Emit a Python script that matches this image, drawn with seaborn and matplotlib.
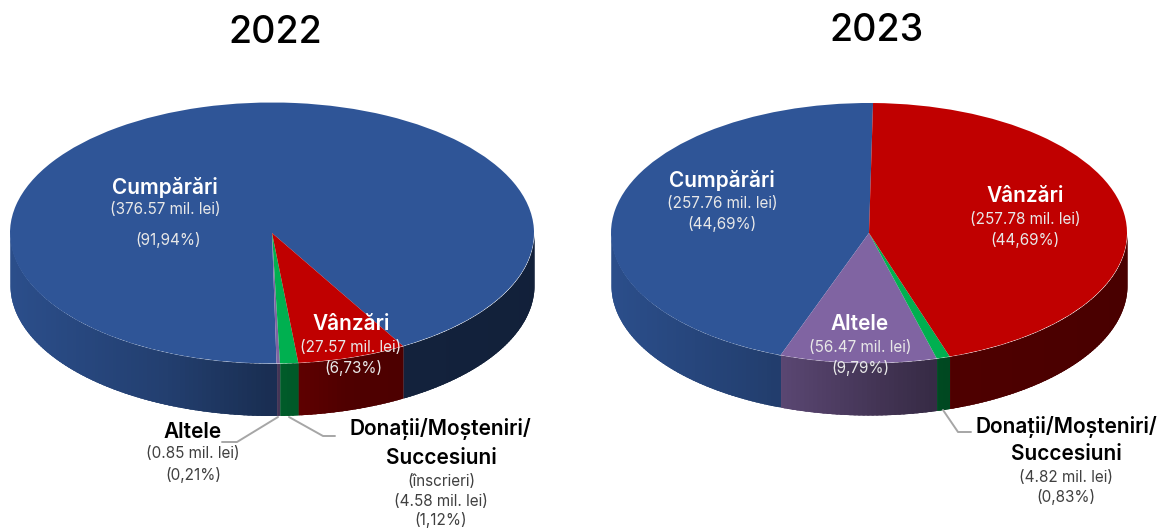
import numpy as np
import matplotlib
matplotlib.use("Agg")
import matplotlib.pyplot as plt
import seaborn as sns

categories = ["Cumpărări", "Altele", "Donații/Moșteniri/\nSuccesiuni", "Vânzări"]
values_2022 = [376.57, 0.85, 4.58, 27.57]
values_2023 = [257.76, 56.47, 4.82, 257.78]
pct_2022 = ["91,94%", "0,21%", "1,12%", "6,73%"]
pct_2023 = ["44,69%", "9,79%", "0,83%", "44,69%"]
colors = ["#2F5597", "#8064A2", "#00B050", "#C00000"]

W, H = 1160, 530
sns.set_theme(style="white")
plt.rcParams["font.family"] = ["Inter", "DejaVu Sans"]
palette = sns.color_palette(colors)

fig = plt.figure(figsize=(W / 100, H / 100), dpi=100)


def shade(x):
    # side of the disc gets darker from left to right
    return np.interp(x, [-1, -0.4, 0.05, 0.3, 1], [0.92, 0.74, 0.52, 0.41, 0.38])


def pie3d(values, start, cx, cy, rx, ry, depth):
    pad = 0.02
    d = depth / ry
    x0 = (cx - rx * (1 + pad)) / W
    y0 = 1 - (cy + ry * (1 + pad + d)) / H
    ax = fig.add_axes([x0, y0, 2 * rx * (1 + pad) / W, ry * (2 + 2 * pad + d) / H])
    ax.pie(values, colors=palette, startangle=start, radius=1, counterclock=True,
           wedgeprops={"linewidth": 0}, normalize=True)
    ax.set_aspect("auto")
    ax.set_xlim(-1 - pad, 1 + pad)
    ax.set_ylim(-1 - pad - d, 1 + pad)

    # side wall, one thin strip per degree, each one overlaps the last to hide seams
    edges = start + np.cumsum([0] + list(values)) / sum(values) * 360
    for i, col in enumerate(palette):
        angles = np.append(np.arange(edges[i], edges[i + 1], 1.0), edges[i + 1])
        for a, b in zip(angles[:-1], angles[1:]):
            if np.sin(np.radians((a + b) / 2)) > 0:
                continue
            a0 = max(a - 1.5, edges[i])
            arc = np.radians(np.linspace(a0, b, 5))
            xs = np.cos(arc)
            ys = np.sin(arc)
            c = np.array(col) * shade(xs.mean())
            ax.fill_between(xs, ys, ys - d, color=c, linewidth=0, zorder=0.5)
    return ax


ax_left = pie3d(values_2022, 300, 272, 233, 262, 130.5, 52)
ax_right = pie3d(values_2023, 89.1, 869, 233, 258, 130, 52)

# overlay in pixel coordinates for titles, labels and leader lines
over = fig.add_axes([0, 0, 1, 1], zorder=5)
over.set_xlim(0, W)
over.set_ylim(H, 0)
over.axis("off")
over.patch.set_alpha(0)


def name(x, y, s, color="black"):
    over.text(x, y + 1.5, s, ha="center", va="center", fontsize=15, fontweight="semibold", color=color,
              clip_on=True)


def sub(x, y, s, color="#404040"):
    over.text(x, y + 1, s, ha="center", va="center", fontsize=11, color=color, clip_on=True)


over.text(275, 33, "2022", ha="center", va="center", fontsize=27, fontweight="medium", color="black")
over.text(876, 31, "2023", ha="center", va="center", fontsize=27, fontweight="medium", color="black")

light = "#E8E8E8"
# 2022
name(165, 186, categories[0], "white")
sub(165, 209, f"({values_2022[0]:.2f} mil. lei)", light)
sub(168, 239, f"({pct_2022[0]})", light)
name(351, 322, categories[3], "white")
sub(351, 346, f"({values_2022[3]:.2f} mil. lei)", light)
sub(353, 367, f"({pct_2022[3]})", light)
name(193, 430, categories[1])
sub(193, 452, f"({values_2022[1]:.2f} mil. lei)")
sub(193, 474, f"({pct_2022[1]})")
first, second = categories[2].split("\n")
name(440, 428, first)
name(441, 457, second)
sub(441, 480, "(înscrieri)")
sub(441, 500, f"({values_2022[2]:.2f} mil. lei)")
sub(441, 519, f"({pct_2022[2]})")

# 2023
name(722, 179, categories[0], "white")
sub(722, 202, f"({values_2023[0]:.2f} mil. lei)", light)
sub(722, 223, f"({pct_2023[0]})", light)
name(1025, 194, categories[3], "white")
sub(1025, 218, f"({values_2023[3]:.2f} mil. lei)", light)
sub(1025, 239, f"({pct_2023[3]})", light)
name(860, 322, categories[1], "white")
sub(860, 347, f"({values_2023[1]:.2f} mil. lei)", light)
sub(860, 367, f"({pct_2023[1]})", light)
name(1066, 425, first)
name(1066, 453, second)
sub(1066, 476, f"({values_2023[2]:.2f} mil. lei)")
sub(1066, 496, f"({pct_2023[2]})")

# leader lines
line_col = "#A6A6A6"
over.plot([278, 237, 222], [417, 442, 442], color=line_col, lw=1.4)
over.plot([289, 323, 335], [417, 436, 436], color=line_col, lw=1.4)
over.plot([943, 958, 971], [410, 432, 432], color=line_col, lw=1.4)

fig.savefig("out.png", dpi=100)
